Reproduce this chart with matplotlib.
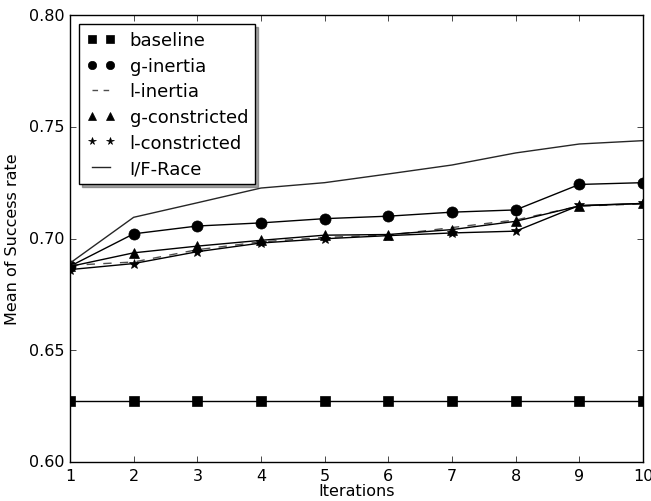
import matplotlib
matplotlib.use('Agg')
import matplotlib.pyplot as plt
from matplotlib.lines import Line2D

iterations = [1, 2, 3, 4, 5, 6, 7, 8, 9, 10]
baseline = [0.6275] * 10
g_inertia = [0.6876, 0.7021, 0.7056, 0.7070, 0.7089, 0.7100, 0.7118, 0.7128, 0.7242, 0.7250]
l_inertia = [0.6880, 0.6895, 0.6950, 0.6985, 0.7005, 0.7015, 0.7049, 0.7083, 0.7145, 0.7155]
g_constricted = [0.6875, 0.6936, 0.6966, 0.6992, 0.7015, 0.7018, 0.7040, 0.7077, 0.7146, 0.7157]
l_constricted = [0.6861, 0.6888, 0.6941, 0.6980, 0.6999, 0.7013, 0.7025, 0.7033, 0.7148, 0.7157]
if_race = [0.6890, 0.7095, 0.7160, 0.7226, 0.7250, 0.7289, 0.7329, 0.7383, 0.7423, 0.7438]

plt.style.use('classic')
plt.rcParams['font.family'] = 'DejaVu Sans'
plt.rcParams['font.size'] = 11.5

fig = plt.figure(figsize=(6.51, 5.02), dpi=100, facecolor='white')
ax = fig.add_axes([0.1075, 0.0777, 0.8802, 0.8903])

ax.plot(iterations, baseline, 'k-', marker='s', markersize=7)
ax.plot(iterations, g_inertia, 'k-', marker='o', markersize=8)
ax.plot(iterations, l_inertia, '--', color='0.3')
ax.plot(iterations, g_constricted, 'k-', marker='^', markersize=7)
ax.plot(iterations, l_constricted, 'k-', marker='*', markersize=7)
ax.plot(iterations, if_race, '-', color='0.15')

ax.set_xlim(1, 10)
ax.set_ylim(0.60, 0.80)
ax.set_yticks([0.60, 0.65, 0.70, 0.75, 0.80])
ax.set_xlabel('Iterations', labelpad=0)
ax.set_ylabel('Mean of Success rate', labelpad=6)

# legend: markers only for the marker series
handles = [
    Line2D([], [], ls='none', marker='s', color='k', markersize=5.5),
    Line2D([], [], ls='none', marker='o', color='k', markersize=6),
    Line2D([], [], ls='--', dashes=(4, 4), color='0.3'),
    Line2D([], [], ls='none', marker='^', color='k', markersize=5.5),
    Line2D([], [], ls='none', marker='*', color='k', markersize=5.5),
    Line2D([], [], ls='-', color='0.15'),
]
labels = ['baseline', 'g-inertia', 'l-inertia', 'g-constricted', 'l-constricted', 'I/F-Race']
leg = ax.legend(handles, labels, loc='upper left', shadow=True, fancybox=False,
                numpoints=2, fontsize=13, handlelength=1.6, borderaxespad=0.5,
                labelspacing=0.42)

fig.savefig('out.png', dpi=100, facecolor='white')
